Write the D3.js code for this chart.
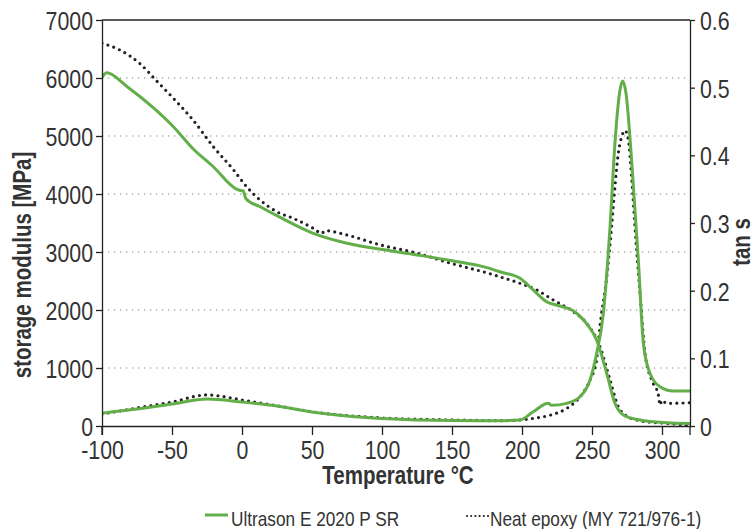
<!DOCTYPE html>
<html>
<head>
<meta charset="utf-8">
<script src="https://cdn.jsdelivr.net/npm/d3@7"></script>
<style>
  html, body { margin: 0; padding: 0; background: #fff; }
  svg { display: block; }
  text { font-family: "Liberation Sans", Arial, sans-serif; fill: #333; }
</style>
</head>
<body>
<svg id="chart" width="756" height="529"></svg>
<script>
// ---------- DATA ----------
const xTicks = [-100, -50, 0, 50, 100, 150, 200, 250, 300];
const leftTicks = [0, 1000, 2000, 3000, 4000, 5000, 6000, 7000];
const gridValues = [1000, 2000, 3000, 4000, 5000, 6000];
const rightTicks = [0, 0.1, 0.2, 0.3, 0.4, 0.5, 0.6];
const seriesNames = ["Ultrason E 2020 P SR", "Neat epoxy (MY 721/976-1)"];

// Storage modulus, Ultrason
const ultrasonModT = [-100, -96.7, -82, -63, -49, -35, -20.5, -4, -1, 0.8, 2.8, 13, 27, 51, 75, 99, 125, 150, 175, 184, 198.6, 208, 217.6, 227, 236.6, 246, 253.3, 260.5, 266.4, 272.4, 284.3, 303.3, 320];
const ultrasonMod  = [6010, 6090, 5850, 5480, 5160, 4780, 4470, 4085, 4060, 4055, 3920, 3780, 3600, 3320, 3150, 3046, 2950, 2850, 2730, 2660, 2546, 2345, 2143, 2069, 1988, 1770, 1483, 909, 391, 190, 103, 57, 45];

// Storage modulus, neat epoxy
const epoxyModT = [-100, -87, -73, -61, -49, -35, -20.5, -6, 3.3, 12.9, 24.8, 36.7, 51, 57, 59.3, 75, 99, 125, 150, 175, 184, 198.6, 210.5, 222.4, 236.6, 246.2, 255.7, 262.9, 268.8, 273.6, 284.3, 303.3, 320];
const epoxyMod  = [6600, 6480, 6250, 5950, 5650, 5276, 4816, 4414, 4126, 3897, 3695, 3580, 3408, 3322, 3368, 3293, 3121, 2980, 2800, 2640, 2574, 2460, 2345, 2172, 1971, 1770, 1367, 793, 333, 190, 91, 45, 17];

// tan delta, Ultrason
const ultrasonTanT = [-100, -75, -50, -25, 0, 25, 50, 75, 100, 150, 184, 198.6, 208, 218.8, 221.2, 231.9, 241.4, 248.6, 253.3, 258.1, 262.9, 266.4, 270, 271.9, 274.3, 278.3, 283.1, 286.7, 291.4, 298.6, 308, 320];
const ultrasonTan  = [0.019, 0.025, 0.0325, 0.040, 0.0355, 0.0296, 0.0207, 0.0148, 0.011, 0.008, 0.0079, 0.0089, 0.021, 0.0335, 0.0306, 0.0335, 0.0433, 0.068, 0.107, 0.1665, 0.2945, 0.418, 0.4965, 0.51, 0.4916, 0.393, 0.245, 0.122, 0.078, 0.058, 0.0517, 0.0517];

// tan delta, neat epoxy
const epoxyTanT = [-100, -75, -50, -25, -15, 0, 25, 50, 100, 150, 184, 198.6, 208, 220, 231.9, 241.4, 248.6, 253.3, 255.7, 260.5, 264, 266.4, 268.8, 271.2, 273.6, 276, 278.3, 280.7, 284.3, 287.9, 292.6, 297.4, 298.6, 299.8, 303.3, 320];
const epoxyTan  = [0.0177, 0.0266, 0.0355, 0.046, 0.044, 0.0384, 0.030, 0.021, 0.012, 0.009, 0.0079, 0.009, 0.0113, 0.016, 0.026, 0.043, 0.068, 0.0975, 0.147, 0.22, 0.2945, 0.354, 0.403, 0.4275, 0.4365, 0.4226, 0.368, 0.2945, 0.196, 0.107, 0.068, 0.046, 0.031, 0.038, 0.0335, 0.0344];

// ---------- LAYOUT ----------
const GREEN = "#62ae48";
const DARK = "#222";
const L = 102, R = 690, T = 20, B = 426;
const NARROW = 0.82;

const svg = d3.select("#chart");
const x = d3.scaleLinear().domain([-100, 320]).range([L, R]);
const yL = d3.scaleLinear().domain([0, 7000]).range([B, T]);
const yR = d3.scaleLinear().domain([0, 0.6]).range([B, T]);

// gridlines
svg.append("g").selectAll("line").data(gridValues).join("line")
  .attr("x1", L).attr("x2", R)
  .attr("y1", d => yL(d)).attr("y2", d => yL(d))
  .attr("stroke", "#aaa").attr("stroke-width", 1.3)
  .attr("stroke-dasharray", "1.3,4.7");

// clip
svg.append("clipPath").attr("id", "clip").append("rect")
  .attr("x", L).attr("y", T - 5).attr("width", R - L).attr("height", B - T + 5);

const plot = svg.append("g").attr("clip-path", "url(#clip)");

function zip(ts, vs) { return ts.map((t, i) => [t, vs[i]]); }

const lineL = d3.line().x(d => x(d[0])).y(d => yL(d[1])).curve(d3.curveMonotoneX);
const lineR = d3.line().x(d => x(d[0])).y(d => yR(d[1])).curve(d3.curveMonotoneX);

const dotStyle = sel => sel.attr("fill", "none").attr("stroke", DARK)
  .attr("stroke-width", 3.2).attr("stroke-linecap", "round")
  .attr("stroke-dasharray", "0,6.2");
const greenStyle = sel => sel.attr("fill", "none").attr("stroke", GREEN)
  .attr("stroke-width", 3).attr("stroke-linejoin", "round");

plot.append("path").datum(zip(epoxyModT, epoxyMod)).attr("d", lineL).call(dotStyle);
plot.append("path").datum(zip(epoxyTanT, epoxyTan)).attr("d", lineR).call(dotStyle);
plot.append("path").datum(zip(ultrasonModT, ultrasonMod)).attr("d", lineL).call(greenStyle);
plot.append("path").datum(zip(ultrasonTanT, ultrasonTan)).attr("d", lineR).call(greenStyle);

// frame top
svg.append("line").attr("x1", L).attr("x2", R).attr("y1", T).attr("y2", T)
  .attr("stroke", "#222").attr("stroke-width", 1.3);

// axes
const fontSize = 26;
const axB = svg.append("g").attr("transform", `translate(0,${B})`)
  .call(d3.axisBottom(x).tickValues(xTicks).tickSize(9).tickPadding(5).tickSizeOuter(0)
    .tickFormat(d => String(d)));
const axL = svg.append("g").attr("transform", `translate(${L},0)`)
  .call(d3.axisLeft(yL).tickValues(leftTicks).tickSize(6).tickPadding(3).tickSizeOuter(0)
    .tickFormat(d => String(d)));
const axR = svg.append("g").attr("transform", `translate(${R},0)`)
  .call(d3.axisRight(yR).tickValues(rightTicks).tickSize(5).tickPadding(5).tickSizeOuter(0)
    .tickFormat(d => d === 0 ? "0" : d3.format(".1f")(d)));

[axB, axL, axR].forEach(a => {
  a.select(".domain").attr("stroke", "#222").attr("stroke-width", 1.3);
  a.selectAll(".tick line").attr("stroke", "#222").attr("stroke-width", 1.3);
  a.selectAll("text").attr("font-size", fontSize).attr("fill", "#333")
    .style("font-family", '"Liberation Sans", Arial, sans-serif');
});
axB.selectAll("text").attr("dy", "0.72em");
axL.selectAll("text").attr("dy", "0.36em");
axR.selectAll("text").attr("dy", "0.36em");
// extend left and right axes down to tick length
svg.append("line").attr("x1", L).attr("x2", L).attr("y1", B).attr("y2", B + 9).attr("stroke", "#222").attr("stroke-width", 1.3);
svg.append("line").attr("x1", R).attr("x2", R).attr("y1", B).attr("y2", B + 9).attr("stroke", "#222").attr("stroke-width", 1.3);

// axis titles
svg.append("text").attr("x", (L + R) / 2 + 2).attr("y", 484)
  .attr("text-anchor", "middle").attr("font-size", 25).attr("font-weight", "bold")
  .attr("fill", "#2a2a2a").text("Temperature °C");

svg.append("text").attr("transform", "translate(31,265) rotate(-90)")
  .attr("text-anchor", "middle").attr("font-size", 25).attr("font-weight", "bold")
  .attr("fill", "#2a2a2a").text("storage modulus [MPa]");

svg.append("text").attr("transform", "translate(750,242) rotate(-90)")
  .attr("text-anchor", "middle").attr("font-size", 25).attr("font-weight", "bold")
  .attr("fill", "#2a2a2a").text("tan s");

// legend
const leg = svg.append("g");
leg.append("line").attr("x1", 205).attr("x2", 228).attr("y1", 515).attr("y2", 515)
  .attr("stroke", GREEN).attr("stroke-width", 3);
leg.append("text").attr("x", 231).attr("y", 525.5).attr("font-size", 21).attr("fill", "#333").text(seriesNames[0]);
leg.append("line").attr("x1", 467).attr("x2", 488).attr("y1", 516).attr("y2", 516)
  .attr("stroke", DARK).attr("stroke-width", 2.2).attr("stroke-linecap", "round").attr("stroke-dasharray", "0,4.2");
leg.append("text").attr("x", 490).attr("y", 525.5).attr("font-size", 21).attr("fill", "#333").text(seriesNames[1]);

// condensed look: squeeze every text horizontally
svg.selectAll("text").each(function () {
  const w = this.getComputedTextLength();
  this.setAttribute("textLength", (w * NARROW).toFixed(2));
  this.setAttribute("lengthAdjust", "spacingAndGlyphs");
});
</script>
</body>
</html>
